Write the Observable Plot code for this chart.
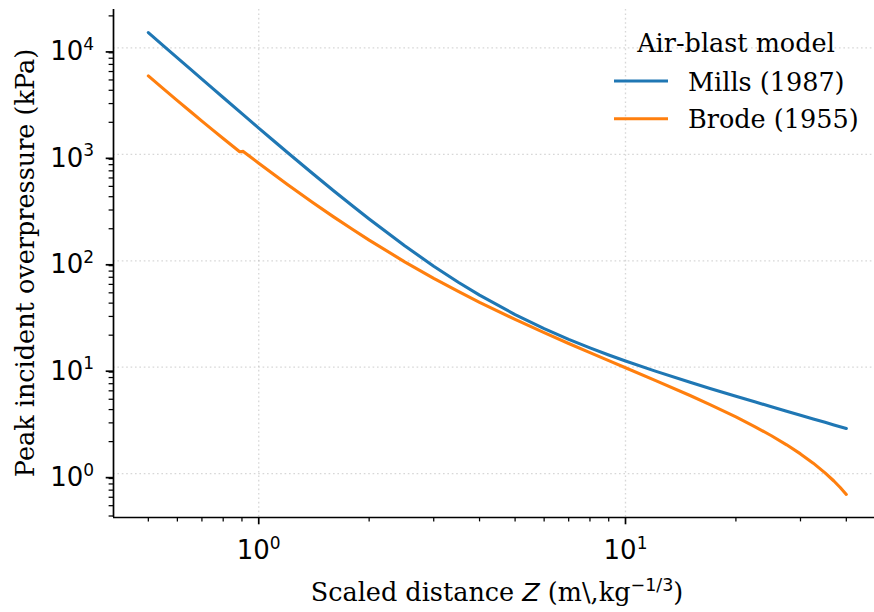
<!DOCTYPE html>
<html><head><meta charset="utf-8">
<script src="https://cdn.jsdelivr.net/npm/d3@7"></script>
<script src="https://cdn.jsdelivr.net/npm/@observablehq/plot@0.6"></script>
<style>
body{margin:0;background:#fff;}
#chart{position:relative;width:874px;height:612px;overflow:hidden;}
</style></head><body><div id="chart"></div>
<script>
// ---- data ----
const seriesNames = ["Mills (1987)", "Brode (1955)"];
const seriesColors = ["#1f77b4", "#ff7f0e"];
const legendTitle = "Air-blast model";
const zMills = [0.5,0.55,0.6,0.65,0.7,0.75,0.8,0.9,1.0,1.1,1.2,1.4,1.6,1.8,2,2.5,3,3.5,4,5,6,7,8,9,10,12,15,17,20,22.5,25,27.5,30,32.5,35,37,40];
const pMills = [13936,10470,8067,6349,5088,4142,3418,2410,1766,1335,1036,664.7,455.6,328.6,247.0,138.4,88.96,62.88,47.56,31.22,23.04,18.27,15.18,13.02,11.43,9.234,7.218,6.319,5.337,4.730,4.251,3.862,3.539,3.267,3.034,2.871,2.656];
const zBrode = [0.5,0.55,0.6,0.65,0.7,0.75,0.8,0.85,0.8873,0.9071,0.95,1.0,1.1,1.2,1.4,1.6,1.8,2,2.5,3,3.5,4,5,6,7,8,9,10,12,15,17,20,22.5,25,27.5,30,32.5,35,37,38.5,40];
const pBrode = [5460,4127,3202,2540,2053,1688,1409,1191,1059,1066,944.3,826.1,646.5,518.9,355.2,258.7,197.5,156.4,97.82,68.44,51.48,40.71,28.10,21.10,16.70,13.70,11.53,9.89,7.574,5.420,4.458,3.412,2.772,2.270,1.866,1.533,1.255,1.018,0.853,0.741,0.638];
const xMajor = [1, 10];
const xMinor = [0.5,0.6,0.7,0.8,0.9,2,3,4,5,6,7,8,9,20,30,40];
const yMajor = [1, 10, 100, 1000, 10000];
const yMinor = [0.4,0.5,0.6,0.7,0.8,0.9,2,3,4,5,6,7,8,9,20,30,40,50,60,70,80,90,200,300,400,500,600,700,800,900,2000,3000,4000,5000,6000,7000,8000,9000,20000];
const xLabelPre = "Scaled distance ", xLabelVar = "Z", xLabelUnit = " (m\\,kg", xLabelExp = "\u22121/3", xLabelEnd = ")";
const yLabel = "Peak incident overpressure (kPa)";

const rows = [
  ...zMills.map((z, i) => ({model: seriesNames[0], z, p: pMills[i]})),
  ...zBrode.map((z, i) => ({model: seriesNames[1], z, p: pBrode[i]}))
];

const W = 874, H = 612, mL = 113, mR = -7, mT = 9, mB = 95;
const xDom = [10 ** -0.396, 10 ** 1.698];
const yDom = [10 ** -0.412, 10 ** 4.361];
const serif = "DejaVu Serif", sans = "DejaVu Sans";
const tickFont = 26;
const expFmt = d => "10^" + Math.round(Math.log10(d));
const gridStyle = {stroke: "#b0b0b0", strokeOpacity: 0.5, strokeWidth: 1.3, strokeDasharray: "1.6,2.8"};

const chart = Plot.plot({
  width: W, height: H, marginLeft: mL, marginRight: mR, marginTop: mT, marginBottom: mB,
  style: {fontFamily: serif, background: "#fff", color: "#000", overflow: "visible"},
  x: {type: "log", domain: xDom, label: null},
  y: {type: "log", domain: yDom, label: null},
  color: {domain: seriesNames, range: seriesColors},
  marks: [
    Plot.gridX(xMajor, gridStyle),
    Plot.gridY(yMajor, gridStyle),
    Plot.axisX(xMinor, {tickSize: 4.4, strokeWidth: 1.25, tickFormat: () => "", label: null}),
    Plot.axisX(xMajor, {tickSize: 7.3, strokeWidth: 1.7, tickPadding: 16, tickFormat: expFmt, fontSize: tickFont, fontFamily: sans, label: null}),
    Plot.axisY(yMinor, {tickSize: 4.4, strokeWidth: 1.25, tickFormat: () => "", label: null}),
    Plot.axisY(yMajor, {tickSize: 7.3, strokeWidth: 1.7, tickPadding: 12, dy: 4, tickFormat: expFmt, fontSize: tickFont, fontFamily: sans, label: null}),
    Plot.ruleX([xDom[0]], {strokeWidth: 1.7}),
    Plot.ruleY([yDom[0]], {strokeWidth: 1.7}),
    Plot.line(rows, {x: "z", y: "p", z: "model", stroke: "model", strokeWidth: 3.1, strokeLinejoin: "round"})
  ]
});
document.getElementById("chart").appendChild(chart);

// superscript exponents in tick labels
d3.select(chart).selectAll("text").each(function() {
  const m = /^10\^(-?\d+)$/.exec(this.textContent);
  if (m) {
    const t = d3.select(this);
    t.text("10");
    t.append("tspan").attr("dy", -10.3).attr("font-size", 17).text(m[1]);
  }
});

const svg = d3.select(chart);
// x label
const xl = svg.append("text").attr("x", (mL + W - mR) / 2).attr("y", 601)
  .attr("text-anchor", "middle").attr("font-size", 25.5).attr("font-family", serif).attr("fill", "#000");
xl.append("tspan").text(xLabelPre);
xl.append("tspan").attr("font-family", sans).attr("font-style", "oblique").text(xLabelVar);
xl.append("tspan").text(xLabelUnit);
xl.append("tspan").attr("font-family", sans).attr("font-size", 17.5).attr("dy", -10.5).text(xLabelExp);
xl.append("tspan").attr("dy", 10.5).text(xLabelEnd);
// y label
svg.append("text").attr("transform", `translate(34,${(mT + H - mB) / 2}) rotate(-90)`)
  .attr("text-anchor", "middle").attr("font-size", 25.5).attr("font-family", serif).attr("fill", "#000").text(yLabel);
// legend
const lg = svg.append("g").attr("font-family", serif).attr("font-size", 25.5).attr("fill", "#000");
lg.append("text").attr("x", 736).attr("y", 52).attr("text-anchor", "middle").text(legendTitle);
seriesNames.forEach((name, i) => {
  const cy = 81 + i * 37.7;
  lg.append("line").attr("x1", 614).attr("x2", 668).attr("y1", cy).attr("y2", cy)
    .attr("stroke", seriesColors[i]).attr("stroke-width", 3.1);
  lg.append("text").attr("x", 688).attr("y", cy + 9.5).attr("text-anchor", "start").text(name);
});
</script></body></html>
